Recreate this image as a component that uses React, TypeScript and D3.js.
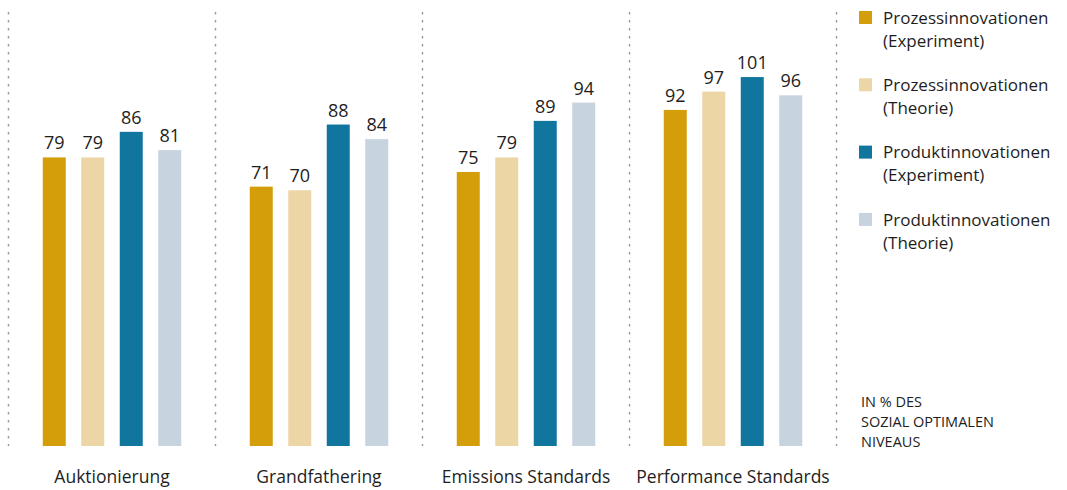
import React from "react";
import * as d3 from "d3";

const categories = ["Auktionierung", "Grandfathering", "Emissions Standards", "Performance Standards"];
const seriesNames = [
  "Prozessinnovationen (Experiment)",
  "Prozessinnovationen (Theorie)",
  "Produktinnovationen (Experiment)",
  "Produktinnovationen (Theorie)",
];
const legendLines = [
  ["Prozessinnovationen", "(Experiment)"],
  ["Prozessinnovationen", "(Theorie)"],
  ["Produktinnovationen", "(Experiment)"],
  ["Produktinnovationen", "(Theorie)"],
];
const prozessExperiment = [79, 71, 75, 92];
const prozessTheorie = [79, 70, 79, 97];
const produktExperiment = [86, 88, 89, 101];
const produktTheorie = [81, 84, 94, 96];
const seriesValues = [prozessExperiment, prozessTheorie, produktExperiment, produktTheorie];
const colors = ["#D49E0B", "#EDD6A5", "#11769E", "#C8D3E0"];
const noteLines = ["IN % DES", "SOZIAL OPTIMALEN", "NIVEAUS"];

const W = 1067;
const H = 490;
const FONT = "'Open Sans', 'Noto Sans', sans-serif";
const TEXT = "#1e1e1e";

export default function App() {
  const x0 = d3.scaleBand<string>().domain(categories).range([8.5, 836.5]).paddingInner(0).paddingOuter(0);
  const x1 = d3
    .scaleBand<string>()
    .domain(seriesNames)
    .range([0, x0.bandwidth()])
    .paddingInner(0.4026)
    .paddingOuter(0.89);
  const y = d3.scaleLinear().domain([0, 100]).range([446, 80.7]);
  const baseY = y(0);
  const dividers = [...categories.map((c) => x0(c) as number), 836.5];

  return (
    <svg
      width={W}
      height={H}
      style={{ position: "absolute", left: 0, top: 0, background: "#fff" }}
      fontFamily={FONT}
    >
      {dividers.map((dx, i) => (
        <line
          key={"d" + i}
          x1={dx}
          x2={dx}
          y1={12}
          y2={baseY}
          stroke="#9a9a9a"
          strokeWidth={1.4}
          strokeDasharray="2.4,5.6"
        />
      ))}
      {categories.map((cat, ci) => (
        <g key={cat} transform={`translate(${x0(cat)},0)`}>
          {seriesNames.map((s, si) => {
            const v = seriesValues[si][ci];
            const bx = x1(s) as number;
            return (
              <g key={s}>
                <rect x={bx} y={y(v)} width={x1.bandwidth()} height={baseY - y(v)} fill={colors[si]} />
                <text
                  x={bx + x1.bandwidth() / 2}
                  y={y(v) - 8}
                  textAnchor="middle"
                  fontSize={18}
                  fill={TEXT}
                >
                  {v}
                </text>
              </g>
            );
          })}
          <text x={x0.bandwidth() / 2} y={483} textAnchor="middle" fontSize={17.5} fill={TEXT}>
            {cat}
          </text>
        </g>
      ))}
      {legendLines.map((lines, i) => {
        const top = 11 + i * 67.3;
        return (
          <g key={"l" + i}>
            <rect x={859} y={top} width={13} height={13} fill={colors[i]} />
            {lines.map((t, j) => (
              <text key={j} x={883} y={top + 12.8 + j * 22.8} fontSize={17} fill={TEXT}>
                {t}
              </text>
            ))}
          </g>
        );
      })}
      {noteLines.map((t, i) => (
        <text key={"n" + i} x={861} y={407.3 + i * 19.6} fontSize={14.5} fill={TEXT}>
          {t}
        </text>
      ))}
    </svg>
  );
}
